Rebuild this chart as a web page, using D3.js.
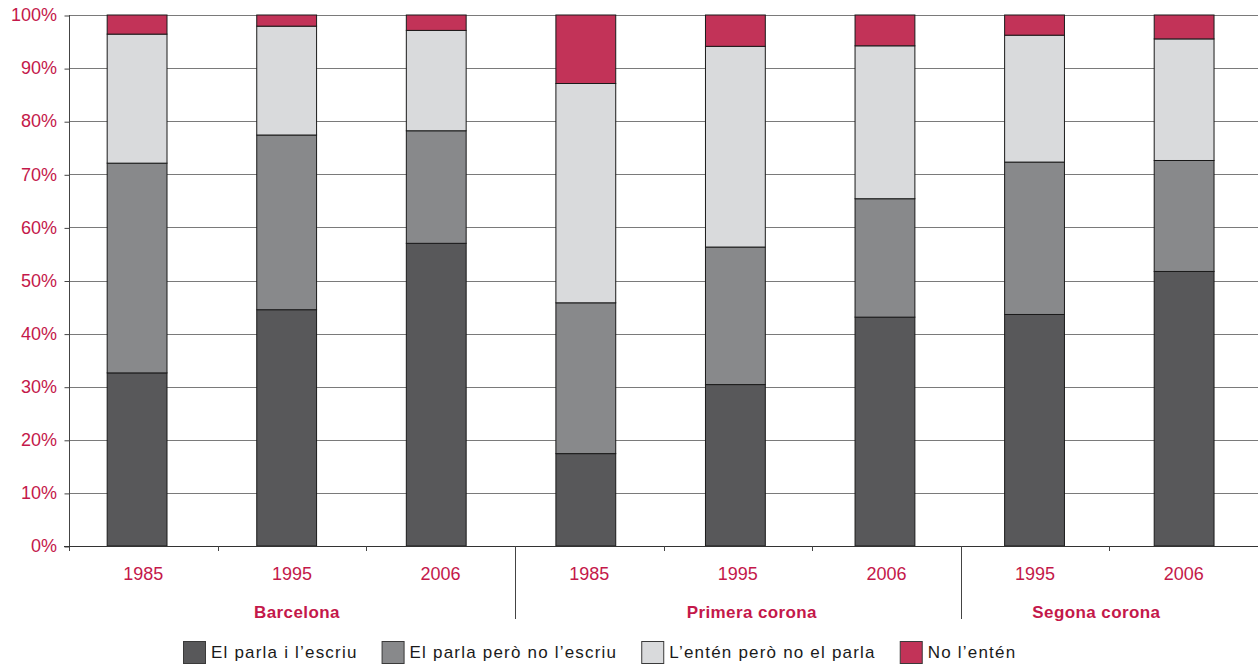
<!DOCTYPE html>
<html>
<head>
<meta charset="utf-8">
<script src="https://cdn.jsdelivr.net/npm/d3@7"></script>
<style>
  html, body { margin: 0; padding: 0; background: #ffffff; }
  svg { display: block; font-family: "Liberation Sans", Arial, Helvetica, sans-serif; }
</style>
</head>
<body>
<svg id="chart" width="1258" height="664"></svg>
<script>
// ---- data ----
const categories = ["1985", "1995", "2006", "1985", "1995", "2006", "1995", "2006"];
const groups = ["Barcelona", "Primera corona", "Segona corona"];
const groupOfCategory = [0, 0, 0, 1, 1, 1, 2, 2];
const seriesNames = ["El parla i l’escriu", "El parla però no l’escriu", "L’entén però no el parla", "No l’entén"];
const parlaEscriu   = [32.6, 44.5, 57.0, 17.4, 30.4, 43.1, 43.6, 51.7];
const parlaNoEscriu = [39.5, 32.9, 21.2, 28.4, 25.9, 22.3, 28.7, 20.9];
const entenNoParla  = [24.3, 20.5, 18.9, 41.3, 37.8, 28.8, 23.9, 22.9];
const noEnten       = [ 3.6,  2.1,  2.9, 12.9,  5.9,  5.8,  3.8,  4.5];
const yTicks = [0, 10, 20, 30, 40, 50, 60, 70, 80, 90, 100];

// ---- styles / layout ----
const colors = ["#58585a", "#88898b", "#d9dadc", "#c23358"];
const labelRed = "#c4184a";
const groupLabelNudge = [5, 14, -13];

const seriesArrays = [parlaEscriu, parlaNoEscriu, entenNoParla, noEnten];
const keys = seriesArrays.map((_, i) => "s" + i);
const rows = categories.map((c, i) => {
  const r = { idx: i };
  keys.forEach((k, j) => r[k] = seriesArrays[j][i]);
  return r;
});
const stacked = d3.stack().keys(keys)(rows);

const svg = d3.select("#chart");
const plotLeft = 69, plotRight = 1258, plotTop = 15, plotBottom = 546;

const y = d3.scaleLinear().domain([0, 100]).range([plotBottom, plotTop]);
const xAxisBand = d3.scaleBand().domain(d3.range(categories.length)).range([plotLeft, plotRight]);
const xBar = d3.scaleBand().domain(d3.range(categories.length)).range([62.3, 1258.9])
  .paddingInner(0.6).paddingOuter(0.3);

const crisp = v => Math.round(v) + 0.5;

// gridlines
svg.append("g").selectAll("line")
  .data(yTicks.filter(t => t > 0))
  .join("line")
  .attr("x1", plotLeft).attr("x2", plotRight)
  .attr("y1", d => crisp(y(d))).attr("y2", d => crisp(y(d)))
  .attr("stroke", "#7a7a7a").attr("stroke-width", 1);

// bars
svg.append("g").selectAll("g")
  .data(stacked)
  .join("g")
  .attr("fill", (d, i) => colors[i])
  .selectAll("rect")
  .data(d => d)
  .join("rect")
  .attr("x", d => xBar(d.data.idx))
  .attr("width", xBar.bandwidth())
  .attr("y", d => y(d[1]))
  .attr("height", d => y(d[0]) - y(d[1]))
  .attr("stroke", "#1a1a1a").attr("stroke-width", 1);

// y axis
const yAxis = d3.axisLeft(y).tickValues(yTicks).tickFormat(d => d + "%").tickSize(5).tickPadding(7);
const yg = svg.append("g").attr("transform", `translate(${crisp(plotLeft) - 0.5},0)`).call(yAxis);
yg.select(".domain").remove();
yg.selectAll(".tick line").attr("stroke", "#444").attr("transform", "translate(0.5,0.5)");
yg.selectAll(".tick text").attr("fill", labelRed).attr("font-size", 18)
  .attr("font-family", "'Liberation Sans', Arial, sans-serif");

svg.append("line")
  .attr("x1", crisp(plotLeft)).attr("x2", crisp(plotLeft))
  .attr("y1", plotTop).attr("y2", plotBottom + 5)
  .attr("stroke", "#444").attr("stroke-width", 1);

// x axis line
svg.append("line")
  .attr("x1", plotLeft - 5).attr("x2", plotRight)
  .attr("y1", crisp(plotBottom)).attr("y2", crisp(plotBottom))
  .attr("stroke", "#333").attr("stroke-width", 1);

// x ticks / group separators
const boundaries = d3.range(1, categories.length);
svg.append("g").selectAll("line")
  .data(boundaries)
  .join("line")
  .attr("x1", d => crisp(xAxisBand(d))).attr("x2", d => crisp(xAxisBand(d)))
  .attr("y1", plotBottom)
  .attr("y2", d => groupOfCategory[d] !== groupOfCategory[d - 1] ? 619 : plotBottom + 5)
  .attr("stroke", "#444").attr("stroke-width", 1);

// year labels
svg.append("g").selectAll("text")
  .data(categories)
  .join("text")
  .attr("x", (d, i) => xAxisBand(i) + xAxisBand.bandwidth() / 2)
  .attr("y", 580)
  .attr("text-anchor", "middle")
  .attr("fill", labelRed)
  .attr("font-size", 18)
  .text(d => d);

// group labels
svg.append("g").selectAll("text")
  .data(groups)
  .join("text")
  .attr("x", (g, gi) => {
    const idxs = d3.range(categories.length).filter(i => groupOfCategory[i] === gi);
    const x0 = xAxisBand(idxs[0]);
    const x1 = xAxisBand(idxs[idxs.length - 1]) + xAxisBand.bandwidth();
    return (x0 + x1) / 2 + groupLabelNudge[gi];
  })
  .attr("y", 618)
  .attr("text-anchor", "middle")
  .attr("fill", labelRed)
  .attr("font-weight", "bold")
  .attr("font-size", 17)
  .attr("letter-spacing", 0.4)
  .text(d => d);

// legend
const legend = svg.append("g");
let lx = 183;
seriesNames.forEach((name, i) => {
  legend.append("rect")
    .attr("x", lx + 0.5).attr("y", 641.5)
    .attr("width", 22).attr("height", 22)
    .attr("fill", colors[i])
    .attr("stroke", "#3a3a3a").attr("stroke-width", 1);
  const t = legend.append("text")
    .attr("x", lx + 28).attr("y", 657.5)
    .attr("font-size", 17)
    .attr("letter-spacing", 1.2)
    .attr("fill", "#1a1a1a")
    .text(name);
  const w = t.node().getComputedTextLength();
  lx = lx + 28 + w + 24;
});
</script>
</body>
</html>
